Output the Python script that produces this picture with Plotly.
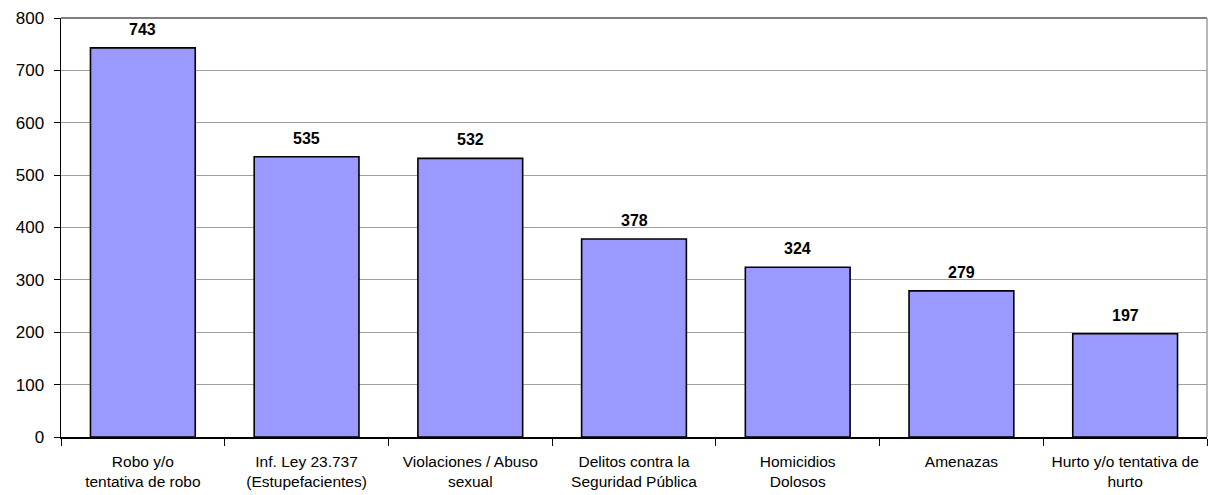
import plotly.graph_objects as go

categories = [
    "Robo y/o<br>tentativa de robo",
    "Inf. Ley 23.737<br>(Estupefacientes)",
    "Violaciones / Abuso<br>sexual",
    "Delitos contra la<br>Seguridad Pública",
    "Homicidios<br>Dolosos",
    "Amenazas",
    "Hurto y/o tentativa de<br>hurto",
]
values = [743, 535, 532, 378, 324, 279, 197]
y_ticks = [0, 100, 200, 300, 400, 500, 600, 700, 800]

FONT = "Liberation Sans, Arial, sans-serif"

fig = go.Figure()
fig.add_trace(go.Bar(
    x=categories,
    y=values,
    marker=dict(color="#9999FF", line=dict(color="black", width=1.6)),
    hoverinfo="skip",
))

for c, v in zip(categories, values):
    fig.add_annotation(
        x=c, y=v, text=f"<b>{v}</b>", showarrow=False,
        yanchor="bottom", yshift=8,
        font=dict(family=FONT, size=16, color="black"),
    )

fig.update_layout(
    width=1212, height=495,
    margin=dict(l=61, r=5, t=18, b=54),
    paper_bgcolor="white", plot_bgcolor="white",
    bargap=0.36,
    showlegend=False,
    font=dict(family=FONT, color="black"),
    shapes=[
        dict(type="line", xref="paper", yref="paper", x0=0, x1=1, y0=1, y1=1,
             line=dict(color="#808080", width=2)),
        dict(type="line", xref="paper", yref="paper", x0=1, x1=1, y0=0, y1=1,
             line=dict(color="#a0a0a0", width=1.5)),
    ],
)
fig.update_xaxes(
    type="category",
    showline=True, linecolor="black", linewidth=1.5,
    ticks="outside", tickson="boundaries", ticklen=7, tickcolor="black", tickwidth=1,
    ticklabelstandoff=10,
    tickfont=dict(family=FONT, size=15.5, color="black"),
    showgrid=False,
)
fig.update_yaxes(
    range=[0, 800], tickvals=y_ticks,
    showline=True, linecolor="black", linewidth=1.5,
    ticks="outside", ticklen=6, tickcolor="black", tickwidth=1,
    ticklabelstandoff=6,
    tickfont=dict(family=FONT, size=17, color="black"),
    showgrid=True, gridcolor="#a0a0a0", gridwidth=1,
    zeroline=False,
)

fig.write_html(
    "out.html",
    config={"displayModeBar": False, "staticPlot": True},
    post_script="document.body.style.margin='0';document.body.style.overflow='hidden';",
)
